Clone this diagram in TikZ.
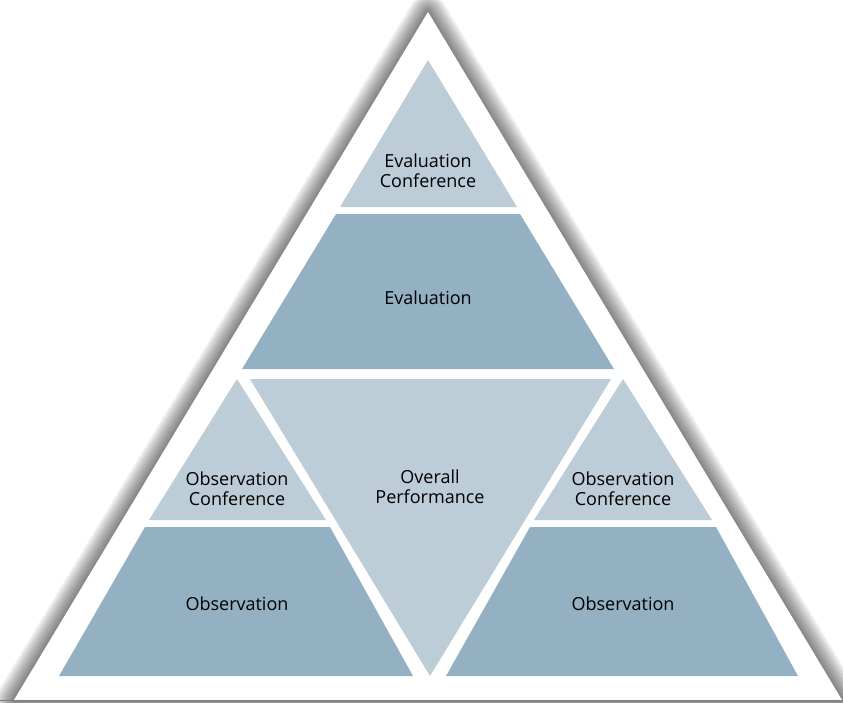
\documentclass[tikz,border=0pt]{standalone}
\usepackage{fontspec}
\setmainfont{Open Sans}
\definecolor{lightpart}{HTML}{BCCDD7}
\definecolor{darkpart}{HTML}{93B1C3}

\begin{document}
\begin{tikzpicture}[x = 1pt, y = -1pt,
    lightpart/.style = {fill = lightpart},
    darkpart/.style = {fill = darkpart},
    parttext/.style = {align = center, inner sep = 0pt, font = \fontsize{18}{20}\selectfont}]
    \useasboundingbox (0,0) rectangle (843,702);
    \clip (0,0) rectangle (843,702);
    % outer triangle with its shadow
    \foreach \w in {4,8,...,36}
        \draw[line width = \w, black, opacity = 0.065, line join = round] (428,12) -- (14,700) -- (842,700) -- cycle;
    \fill[white] (428,12) -- (14,700) -- (842,700) -- cycle;
    \draw[gray] (0,700.5) -- (843,700.5);
    % parts
    \fill[lightpart] (428,60) -- (517,207) -- (340,207) -- cycle;
    \fill[darkpart] (336,214) -- (520,214) -- (614,369) -- (242,369) -- cycle;
    \fill[lightpart] (237,379) -- (326,520) -- (149,520) -- cycle;
    \fill[darkpart] (145,527) -- (330,527) -- (413,676) -- (59,676) -- cycle;
    \fill[lightpart] (250,379) -- (611,379) -- (430,676) -- cycle;
    \fill[lightpart] (623,379) -- (712,520) -- (534,520) -- cycle;
    \fill[darkpart] (530,527) -- (716,527) -- (798,676) -- (446,676) -- cycle;
    % texts
    \node[parttext] (evalconf) at (428,171) {Evaluation\\Conference};
    \node[parttext] (eval) at (428,298) {Evaluation};
    \node[parttext] (obsconfl) at (237,489) {Observation\\Conference};
    \node[parttext] (overall) at (430,487) {Overall\\Performance};
    \node[parttext] (obsconfr) at (623,489) {Observation\\Conference};
    \node[parttext] (obsl) at (237,604) {Observation};
    \node[parttext] (obsr) at (623,604) {Observation};
\end{tikzpicture}
\end{document}
